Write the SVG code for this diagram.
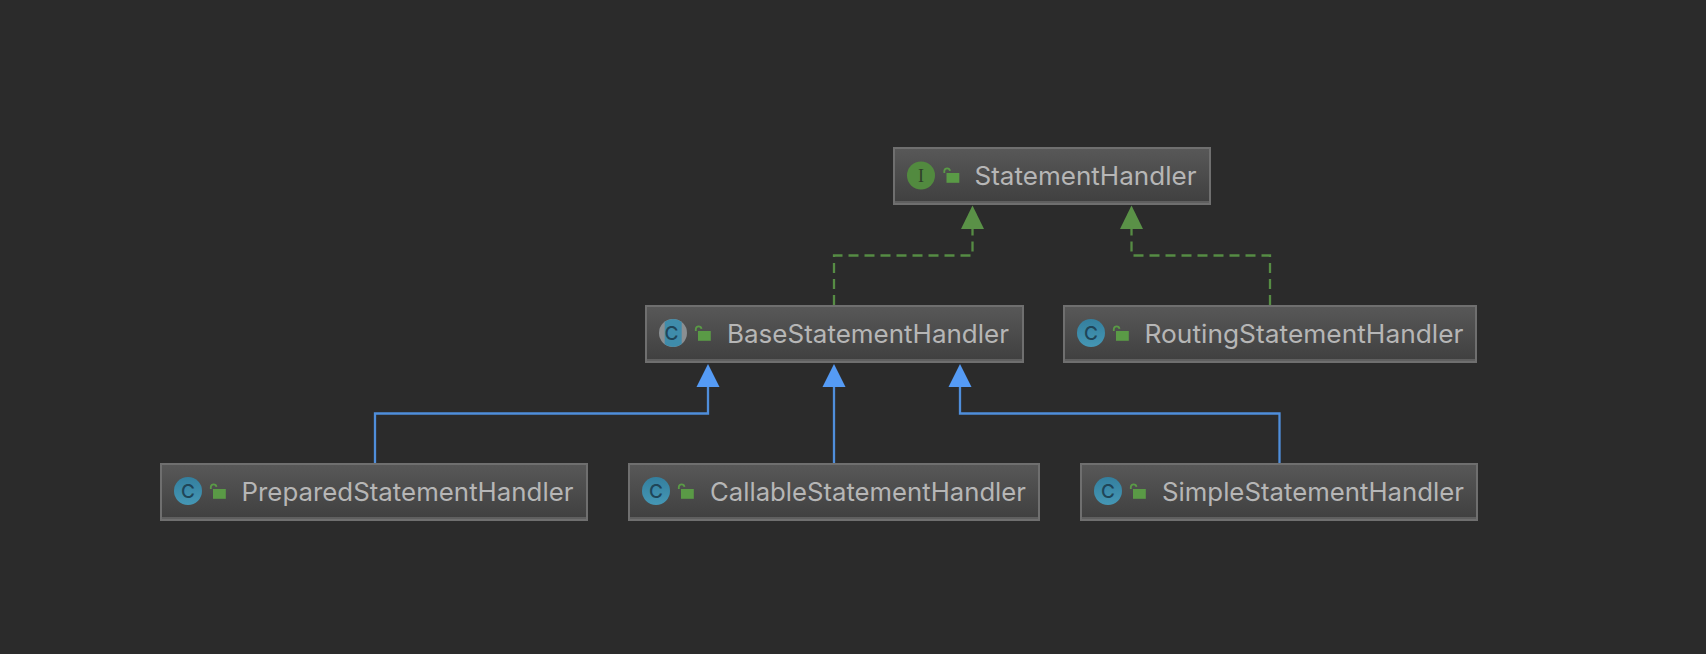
<svg xmlns="http://www.w3.org/2000/svg" width="1706" height="654" viewBox="0 0 1706 654">
<style>
.box{fill:url(#nodeFill);stroke:#6f6f6f;stroke-width:2}
.band{fill:#5f5f5f}
.label{font-family:"Inter","Liberation Sans",sans-serif;font-size:25.500px;fill:#b6b6b6}
.cglyph{font-family:"Inter","Liberation Sans",sans-serif;font-size:19px;font-weight:500;fill:#1f4558;text-anchor:middle}
.iglyph{font-family:"Liberation Serif",serif;font-size:18px;fill:#2f3f2a;text-anchor:middle}
.impl{fill:none;stroke:#568c44;stroke-width:2.300;stroke-dasharray:10 6}
.ext{fill:none;stroke:#4f8edb;stroke-width:2.300}
</style>
<defs>
<linearGradient id="nodeFill" x1="0" y1="0" x2="0" y2="1"><stop offset="0" stop-color="#585858"/><stop offset="1" stop-color="#3f3f3f"/></linearGradient>
<linearGradient id="classFill" x1="0" y1="0" x2="0" y2="1"><stop offset="0" stop-color="#347f9e"/><stop offset="1" stop-color="#4597b5"/></linearGradient>
<g id="lock"><rect x="3.500" y="6" width="12.800" height="9.800" fill="#5a9a46"/><path d="M1.300 6V3.800A2.900 2.900 0 0 1 7 3.800" fill="none" stroke="#5a9a46" stroke-width="1.800"/></g>
</defs>
<rect width="1706" height="654" fill="#2b2b2b"/>
<g id="connectors">
<path class="impl" d="M834 305V255.500H972.500V229"/>
<path class="impl" d="M1270 305V255.500H1131.500V229"/>
<path class="ext" d="M375 463V413.500H708V387"/>
<path class="ext" d="M834 463V387"/>
<path class="ext" d="M1279.500 463V413.500H960V387"/>
<path fill="#5a9147" d="M972.500 205.500L984 229H961Z"/>
<path fill="#5a9147" d="M1131.500 205.500L1143 229H1120Z"/>
<path fill="#559bf5" d="M708 364L719.500 387H696.500Z"/>
<path fill="#559bf5" d="M834 364L845.500 387H822.500Z"/>
<path fill="#559bf5" d="M960 364L971.500 387H948.500Z"/>
</g>
<g id="StatementHandler">
<rect class="box" x="894" y="148" width="316" height="56"/><rect class="band" x="895" y="201" width="314" height="2"/>
<circle cx="921" cy="175.500" r="14" fill="#528a3f"/><text class="iglyph" x="921" y="181.500">I</text>
<use href="#lock" x="943" y="167"/>
<text class="label" x="974.500" y="185" textLength="222" lengthAdjust="spacingAndGlyphs">StatementHandler</text>
</g>
<g id="BaseStatementHandler">
<rect class="box" x="646" y="306" width="377" height="56"/><rect class="band" x="647" y="359" width="375" height="2"/>
<circle cx="673" cy="333" r="14" fill="#8a8f92"/><path d="M664.700 321.800A14 14 0 0 1 681.700 322V344A14 14 0 0 1 664.700 344.200Z" fill="#3f8cab"/><text class="cglyph" x="671.500" y="340">C</text>
<use href="#lock" x="694.500" y="325"/>
<text class="label" x="727" y="343" textLength="282" lengthAdjust="spacingAndGlyphs">BaseStatementHandler</text>
</g>
<g id="RoutingStatementHandler">
<rect class="box" x="1064" y="306" width="412" height="56"/><rect class="band" x="1065" y="359" width="410" height="2"/>
<circle cx="1091" cy="333" r="14" fill="url(#classFill)"/><text class="cglyph" x="1091" y="340">C</text>
<use href="#lock" x="1112.500" y="325"/>
<text class="label" x="1144.500" y="343" textLength="319" lengthAdjust="spacingAndGlyphs">RoutingStatementHandler</text>
</g>
<g id="PreparedStatementHandler">
<rect class="box" x="161" y="464" width="426" height="56"/><rect class="band" x="162" y="517" width="424" height="2"/>
<circle cx="188" cy="491" r="14" fill="url(#classFill)"/><text class="cglyph" x="188" y="498">C</text>
<use href="#lock" x="209.500" y="483"/>
<text class="label" x="241.500" y="501" textLength="332" lengthAdjust="spacingAndGlyphs">PreparedStatementHandler</text>
</g>
<g id="CallableStatementHandler">
<rect class="box" x="629" y="464" width="410" height="56"/><rect class="band" x="630" y="517" width="408" height="2"/>
<circle cx="656" cy="491" r="14" fill="url(#classFill)"/><text class="cglyph" x="656" y="498">C</text>
<use href="#lock" x="677.500" y="483"/>
<text class="label" x="710" y="501" textLength="316" lengthAdjust="spacingAndGlyphs">CallableStatementHandler</text>
</g>
<g id="SimpleStatementHandler">
<rect class="box" x="1081" y="464" width="396" height="56"/><rect class="band" x="1082" y="517" width="394" height="2"/>
<circle cx="1108" cy="491" r="14" fill="url(#classFill)"/><text class="cglyph" x="1108" y="498">C</text>
<use href="#lock" x="1129.500" y="483"/>
<text class="label" x="1162" y="501" textLength="302" lengthAdjust="spacingAndGlyphs">SimpleStatementHandler</text>
</g>
</svg>
